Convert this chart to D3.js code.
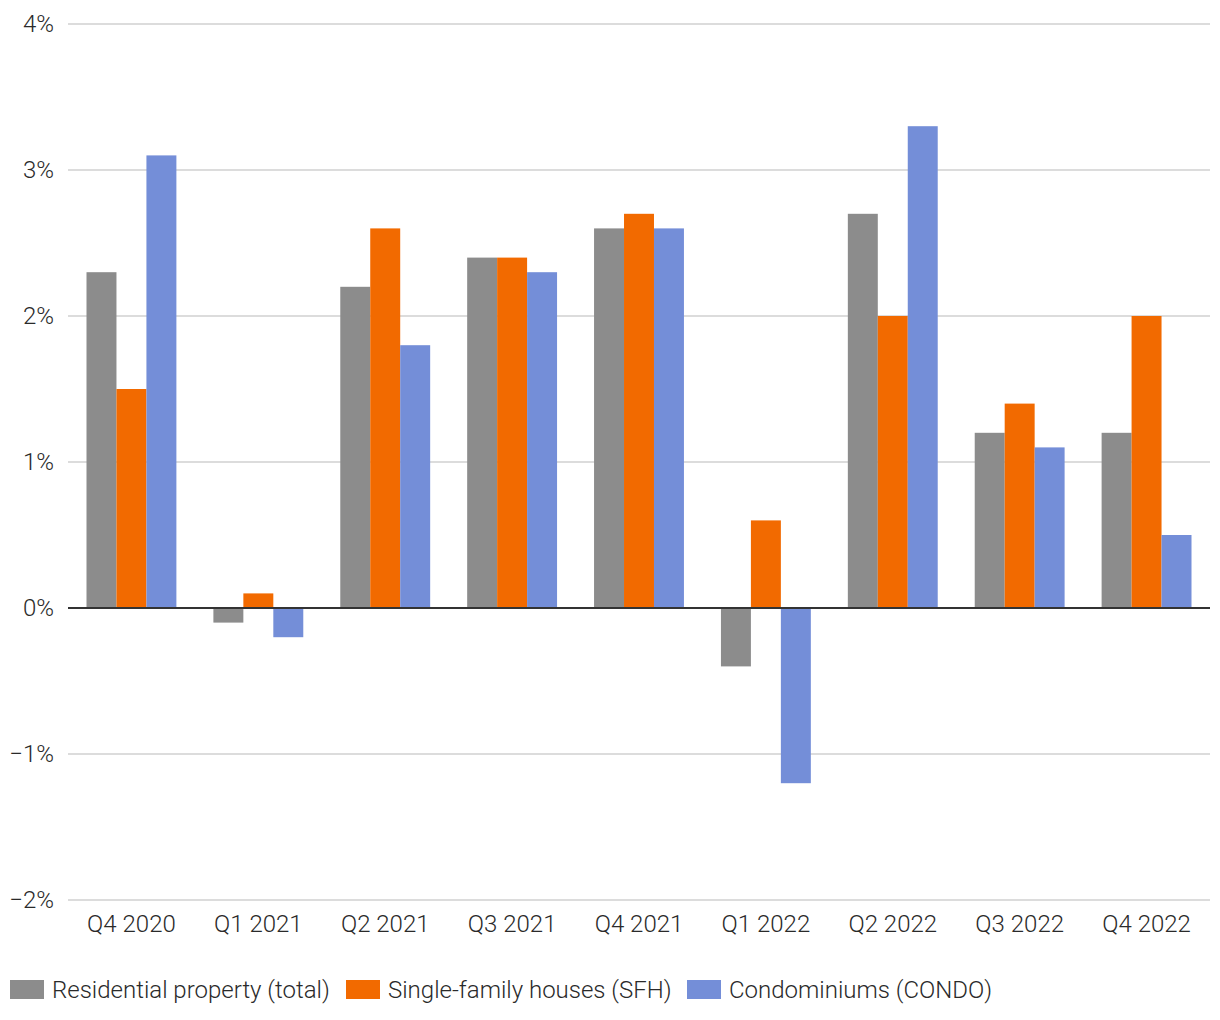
<!DOCTYPE html>
<html>
<head>
<meta charset="utf-8">
<script src="https://cdn.jsdelivr.net/npm/d3@7"></script>
<style>
html,body{margin:0;padding:0;background:#fff;}
svg{display:block;font-family:Roboto, "Noto Sans", sans-serif;}
</style>
</head>
<body>
<svg id="chart" width="1220" height="1020"></svg>
<script>
const categories = ["Q4 2020","Q1 2021","Q2 2021","Q3 2021","Q4 2021","Q1 2022","Q2 2022","Q3 2022","Q4 2022"];
const seriesNames = ["Residential property (total)","Single-family houses (SFH)","Condominiums (CONDO)"];
const seriesColors = ["#8c8c8c","#f26a00","#748ed8"];
const totalValues = [2.3,-0.1,2.2,2.4,2.6,-0.4,2.7,1.2,1.2];
const sfhValues   = [1.5, 0.1,2.6,2.4,2.7, 0.6,2.0,1.4,2.0];
const condoValues = [3.1,-0.2,1.8,2.3,2.6,-1.2,3.3,1.1,0.5];
const yTicks = [-2,-1,0,1,2,3,4];

(function(){
const series = [totalValues, sfhValues, condoValues];
const svg = d3.select("#chart");
const mLeft = 68, mRight = 1210, mTop = 24, mBottom = 900;
const fs = 24, fw = 300, tc = "#2a2a2a";

const x0 = d3.scaleBand().domain(categories).range([mLeft, mRight]).paddingInner(0).paddingOuter(0);
const groupPad = 18.5;
const x1 = d3.scaleBand().domain(d3.range(series.length)).range([0, x0.bandwidth() - 2*groupPad]).padding(0);
const y = d3.scaleLinear().domain([-2, 4]).range([mBottom, mTop]);

// gridlines
svg.append("g").selectAll("line").data(yTicks.filter(t => t !== 0)).join("line")
  .attr("x1", mLeft).attr("x2", mRight)
  .attr("y1", d => y(d)).attr("y2", d => y(d))
  .attr("stroke", "#d0d0d0").attr("stroke-width", 1.5);

// y labels
const yAxis = d3.axisLeft(y).tickValues(yTicks).tickSize(0).tickPadding(0)
  .tickFormat(d => (d < 0 ? "\u2212" + Math.abs(d) : d) + "%");
const yg = svg.append("g").attr("transform", `translate(${mLeft - 14},0)`).call(yAxis);
yg.select(".domain").remove();
yg.selectAll("text").attr("font-size", fs).attr("font-weight", fw).attr("fill", tc).attr("font-family", "Roboto");

// bars
const groups = svg.append("g").selectAll("g").data(categories).join("g")
  .attr("transform", d => `translate(${x0(d) + groupPad},0)`);
groups.selectAll("rect").data((d, i) => series.map((s, k) => ({k, v: s[i]}))).join("rect")
  .attr("x", d => x1(d.k))
  .attr("width", x1.bandwidth())
  .attr("y", d => y(Math.max(0, d.v)))
  .attr("height", d => Math.abs(y(d.v) - y(0)))
  .attr("fill", d => seriesColors[d.k]);

// zero line
svg.append("line").attr("x1", mLeft).attr("x2", mRight).attr("y1", y(0)).attr("y2", y(0))
  .attr("stroke", "#333").attr("stroke-width", 2);

// x labels
const xAxis = d3.axisBottom(x0).tickSize(0).tickPadding(0);
const xg = svg.append("g").attr("transform", `translate(0,${mBottom + 32})`).call(xAxis);
xg.select(".domain").remove();
xg.selectAll("text").attr("font-size", fs).attr("font-weight", fw).attr("fill", tc).attr("font-family", "Roboto").attr("dy", null);

// legend
const legendX = [10, 346, 687];
const lg = svg.append("g").selectAll("g").data(seriesNames).join("g")
  .attr("transform", (d, i) => `translate(${legendX[i]},980)`);
lg.append("rect").attr("width", 34).attr("height", 19).attr("fill", (d, i) => seriesColors[i]);
lg.append("text").attr("x", 42).attr("y", 18).attr("font-size", fs).attr("font-weight", fw).attr("fill", tc).text(d => d);
})();
</script>
</body>
</html>
